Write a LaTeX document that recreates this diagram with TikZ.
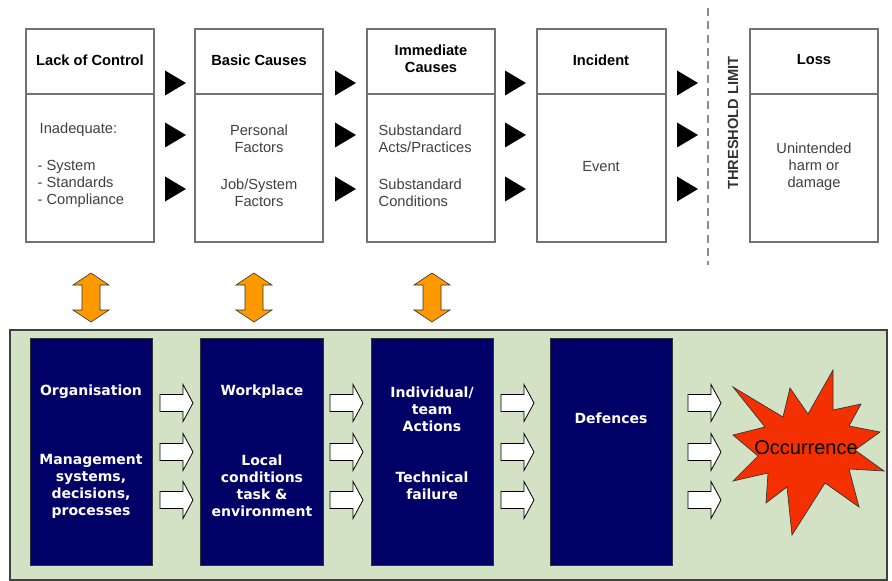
\documentclass[tikz,border=0pt]{standalone}
\usepackage{fontspec}
\setmainfont{Liberation Sans}
\newfontfamily\verdfont{DejaVu Sans}
\usepackage{tikz}

\definecolor{panelgreen}{RGB}{211,225,196}
\definecolor{navy}{RGB}{0,0,102}
\definecolor{arroworange}{RGB}{255,153,0}
\definecolor{burstred}{RGB}{245,48,0}

\tikzset{
  topbox/.style={draw=black!55, line width=0.8pt},
  headtext/.style={font=\fontsize{11}{12.75}\selectfont\bfseries, align=center},
  bodytext/.style={font=\fontsize{11}{12.75}\selectfont, text=black!75},
  navybox/.style={fill=navy, draw=black!80, line width=0.6pt},
  navytext/.style={font=\verdfont\fontsize{10.5}{12.75}\selectfont\bfseries, text=white, align=center},
}

\begin{document}
\begin{tikzpicture}[x=0.75pt, y=-0.75pt]
        \useasboundingbox (0,0) rectangle (892,581);

        % Lack of Control
        \draw[topbox] (26,29) rectangle (154,242);
        \draw[topbox] (26,94) -- (154,94);
        \node[headtext] (lackhead) at (90,60) {Lack of Control};
        \node[bodytext, anchor=west] (lackinad) at (35,130) {Inadequate:};
        \node[bodytext, anchor=west, align=left] (lacklist) at (33,184) {- System\\- Standards\\- Compliance};

        % Basic Causes
        \draw[topbox] (195,29) rectangle (323,242);
        \draw[topbox] (195,94) -- (323,94);
        \node[headtext] (basichead) at (259,60) {Basic Causes};
        \node[bodytext, align=center] (basicpers) at (259,139) {Personal\\Factors};
        \node[bodytext, align=center] (basicjob) at (259,193) {Job/System\\Factors};

        % Immediate Causes
        \draw[topbox] (367,29) rectangle (495,242);
        \draw[topbox] (367,94) -- (495,94);
        \node[headtext] (immhead) at (431,59) {Immediate\\Causes};
        \node[bodytext, anchor=west, align=left] (immacts) at (374,139) {Substandard\\Acts/Practices};
        \node[bodytext, anchor=west, align=left] (immcond) at (374,193) {Substandard\\Conditions};

        % Incident
        \draw[topbox] (537,29) rectangle (666,242);
        \draw[topbox] (537,94) -- (666,94);
        \node[headtext] (inchead) at (601,60) {Incident};
        \node[bodytext] (incevent) at (601,167) {Event};

        % Loss
        \draw[topbox] (750,29) rectangle (878,242);
        \draw[topbox] (750,94) -- (878,94);
        \node[headtext] (losshead) at (814,60) {Loss};
        \node[bodytext, align=center] (lossharm) at (814,167) {Unintended\\harm or\\damage};

        % Threshold limit
        \coordinate (limtop) at (708,8);
        \coordinate (limbot) at (708,265);
        \draw[black!45, line width=0.8pt, dash pattern=on 6pt off 4pt] (limtop) -- (limbot);
        \node[headtext, rotate=90, text=black!80] (threshold) at (733,123) {THRESHOLD LIMIT};

        % Black triangles
        \foreach \x in {165,335,505,677}
          \foreach \y in {83,135,189}
            \fill (\x,\y-12.5) -- (\x+21,\y) -- (\x,\y+12.5) -- cycle;

        % Orange double arrows
        \foreach \x in {91,254,432}
          \filldraw[fill=arroworange, draw=black!80, line width=0.5pt]
            (\x,273) -- (\x+18,285) -- (\x+9,285) -- (\x+9,310) -- (\x+18,310) -- (\x,322)
            -- (\x-18,310) -- (\x-9,310) -- (\x-9,285) -- (\x-18,285) -- cycle;

        % Green panel
        \draw[fill=panelgreen, draw=black!75, line width=0.9pt] (10,330) rectangle (887,580);

        % Organisation
        \draw[navybox] (30,338) rectangle (152,565);
        \node[navytext] (orgtitle) at (91,392) {Organisation};
        \node[navytext] (orgmgmt) at (91,486) {Management\\systems,\\decisions,\\processes};

        % Workplace
        \draw[navybox] (200,338) rectangle (323,565);
        \node[navytext] (worktitle) at (262,392) {Workplace};
        \node[navytext] (worklocal) at (262,486) {Local\\conditions\\task \&\\environment};

        % Individual/team
        \draw[navybox] (371,338) rectangle (493,565);
        \node[navytext] (indivtitle) at (432,409) {Individual/\\team\\Actions};
        \node[navytext] (indivtech) at (432,486) {Technical\\failure};

        % Defences
        \draw[navybox] (550,338) rectangle (672,565);
        \node[navytext] (deftitle) at (611,418) {Defences};

        % White block arrows
        \foreach \x in {160,330,501,688}
          \foreach \y in {403,452,500}
            \filldraw[fill=white, draw=black, line width=0.6pt]
              (\x,\y-8.5) -- (\x+23,\y-8.5) -- (\x+23,\y-18.5) -- (\x+33,\y)
              -- (\x+23,\y+18.5) -- (\x+23,\y+8.5) -- (\x,\y+8.5) -- cycle;

        % Occurrence
        \filldraw[fill=burstred, draw=black!80, line width=0.5pt]
          (733,387) -- (783,417) -- (790,388) -- (808,414) -- (833,370) -- (833,410)
          -- (861,404) -- (849,426) -- (880,432) -- (855,450) -- (884,471) -- (849,469)
          -- (859,507) -- (825,483) -- (792,535) -- (787,487) -- (766,503) -- (768,473)
          -- (733,481) -- (758,456) -- (733,435) -- (765,427) -- cycle;
        \node[font=\fontsize{15}{18}\selectfont] (occur) at (806,448) {Occurrence};
\end{tikzpicture}
\end{document}
